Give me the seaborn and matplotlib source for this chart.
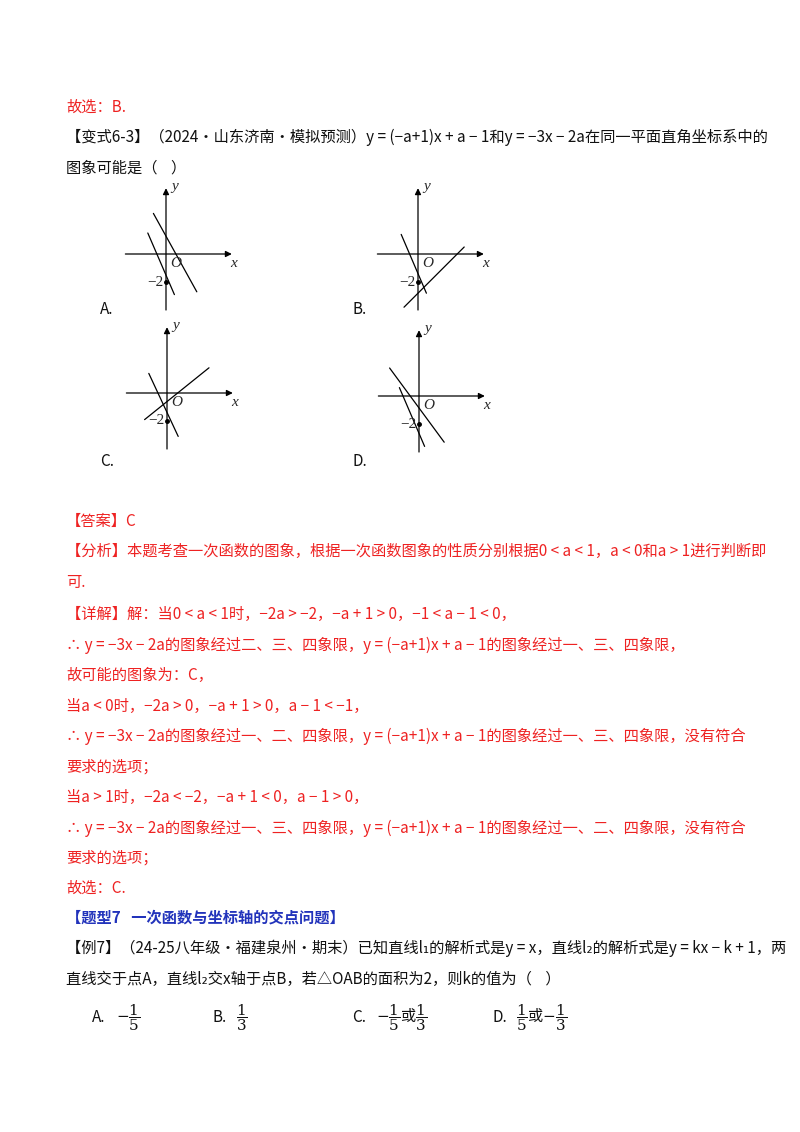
import matplotlib
matplotlib.use("Agg")
import matplotlib.pyplot as plt
import seaborn as sns
import pandas as pd

sns.set_theme(style="white")
plt.rcParams['font.family'] = ['Noto Sans CJK SC', 'DejaVu Sans']
plt.rcParams['mathtext.fontset'] = 'dejavuserif'

RED = '#ee2222'
BLUE = '#2233bb'
BLACK = '#111111'

# graph data: (panel, line id, x, y) in axis units
panels = ['A', 'B', 'C', 'D']
origins_px = {'A': (166, 254), 'B': (418, 254), 'C': (167, 393), 'D': (419, 396)}
line_x = {
    'A': [[-0.9, 2.2], [-1.3, 0.6]],
    'B': [[-1.2, 0.6], [-1.0, 3.3]],
    'C': [[-1.3, 0.8], [-1.6, 3.0]],
    'D': [[-2.1, 1.8], [-1.4, 0.4]],
}
line_y = {
    'A': [[2.9, -2.7], [1.5, -2.9]],
    'B': [[1.4, -2.8], [-3.8, 0.5]],
    'C': [[1.4, -3.1], [-1.9, 1.8]],
    'D': [[2.0, -3.3], [0.6, -3.6]],
}
point_y = -2

W, H = 800, 1132
fig = plt.figure(figsize=(8, 11.32), dpi=100)
bg = fig.add_axes([0, 0, 1, 1])
bg.set_xlim(0, W); bg.set_ylim(H, 0); bg.axis('off')

U = 14.0
XL, XR, YB, YT = -3.3, 5.3, -4.4, 5.0
for p in panels:
    ox, oy = origins_px[p]
    left = (ox + XL * U) / W
    bottom = (H - (oy - YB * U)) / H
    ax = fig.add_axes([left, bottom, (XR - XL) * U / W, (YT - YB) * U / H])
    ax.set_xlim(XL, XR); ax.set_ylim(YB, YT); ax.axis('off')
    rows = []
    for i, (xs, ys) in enumerate(zip(line_x[p], line_y[p])):
        for x, y in zip(xs, ys):
            rows.append({'x': x, 'y': y, 'line': i})
    df = pd.DataFrame(rows)
    sns.lineplot(data=df, x='x', y='y', units='line', estimator=None, color='black',
                 lw=0.9, ax=ax, legend=False, sort=False)
    ax.annotate('', xy=(4.9, 0), xytext=(-3.1, 0),
                arrowprops=dict(arrowstyle='-|>', color='black', lw=0.9, mutation_scale=9))
    ax.annotate('', xy=(0, 4.9), xytext=(0, -4.2),
                arrowprops=dict(arrowstyle='-|>', color='black', lw=0.9, mutation_scale=9))
    ax.plot([0], [point_y], 'o', color='black', ms=2.5)
    ax.text(0.3, -0.2, 'O', fontsize=11, style='italic', family='Liberation Serif', va='top')
    ax.text(-0.2, point_y, '−2', fontsize=11, family='Liberation Serif', ha='right', va='center')
    ax.text(4.6, -0.2, 'x', fontsize=11, style='italic', family='Liberation Serif', va='top')
    ax.text(0.35, 4.8, 'y', fontsize=11, style='italic', family='Liberation Serif', va='center')

FS = 11
def t(x, y, s, c=BLACK, **kw):
    bg.text(x, y, s, color=c, fontsize=FS, va='center', ha='left', **kw)

L = 66
t(L, 107, '故选：B.', RED)
t(L, 137, '【变式6-3】（2024·山东济南·模拟预测）y = (−a+1)x + a − 1和y = −3x − 2a在同一平面直角坐标系中的')
t(L, 168, '图象可能是（    ）')
t(100, 309, 'A.'); t(352, 309, 'B.'); t(100, 461, 'C.'); t(352, 461, 'D.')
red_lines = [
    (521, '【答案】C'),
    (551, '【分析】本题考查一次函数的图象，根据一次函数图象的性质分别根据0 < a < 1，a < 0和a > 1进行判断即'),
    (582, '可.'),
    (614, '【详解】解：当0 < a < 1时，−2a > −2，−a + 1 > 0，−1 < a − 1 < 0，'),
    (645, '∴ y = −3x − 2a的图象经过二、三、四象限，y = (−a+1)x + a − 1的图象经过一、三、四象限，'),
    (675, '故可能的图象为：C，'),
    (706, '当a < 0时，−2a > 0，−a + 1 > 0，a − 1 < −1，'),
    (736, '∴ y = −3x − 2a的图象经过一、二、四象限，y = (−a+1)x + a − 1的图象经过一、三、四象限，没有符合'),
    (767, '要求的选项；'),
    (797, '当a > 1时，−2a < −2，−a + 1 < 0，a − 1 > 0，'),
    (828, '∴ y = −3x − 2a的图象经过一、三、四象限，y = (−a+1)x + a − 1的图象经过一、二、四象限，没有符合'),
    (858, '要求的选项；'),
    (888, '故选：C.'),
]
for y, s in red_lines:
    t(L, y, s, RED)
t(L, 918, '【题型7   一次函数与坐标轴的交点问题】', BLUE, fontweight='bold')
t(L, 948, '【例7】（24-25八年级·福建泉州·期末）已知直线l₁的解析式是y = x，直线l₂的解析式是y = kx − k + 1，两')
t(L, 979, '直线交于点A，直线l₂交x轴于点B，若△OAB的面积为2，则k的值为（    ）')
opt_labels = ['A.', 'B.', 'C.', 'D.']
opt_x = [92, 212, 352, 492]
opt_texts = [r'$-\dfrac{1}{5}$', r'$\dfrac{1}{3}$', r'$-\dfrac{1}{5}$或$\dfrac{1}{3}$', r'$\dfrac{1}{5}$或$-\dfrac{1}{3}$']
for lab, x, s in zip(opt_labels, opt_x, opt_texts):
    t(x, 1018, lab)
    t(x + 24, 1018, s)

fig.savefig('out.png', dpi=100, facecolor='white')
